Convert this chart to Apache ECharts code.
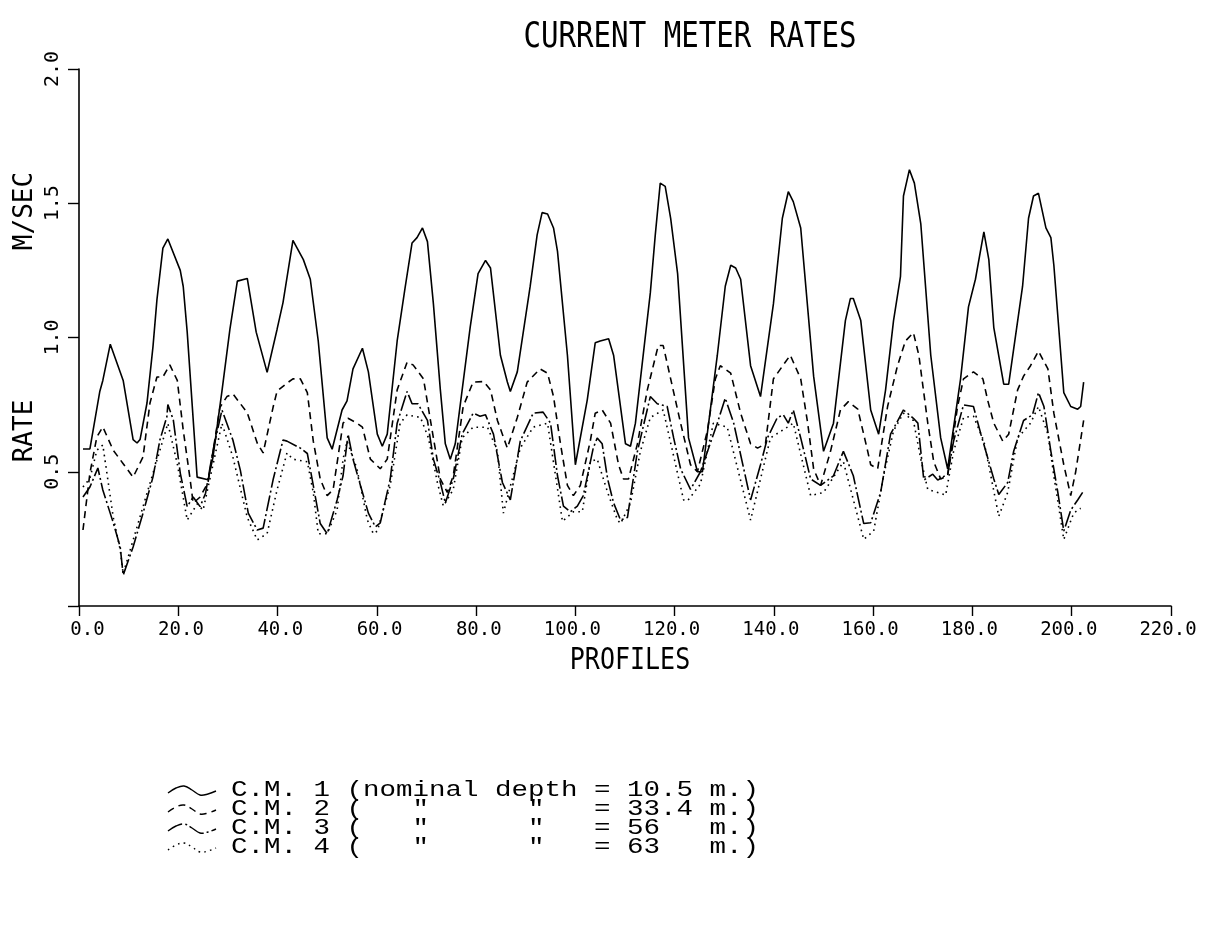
<!DOCTYPE html>
<html>
<head>
<meta charset="utf-8">
<title>Current Meter Rates</title>
<script src="https://cdn.jsdelivr.net/npm/echarts@6/dist/echarts.min.js"></script>
<style>
  html, body { margin: 0; padding: 0; background: #fff; }
  #chart { width: 1211px; height: 935px; }
</style>
</head>
<body>
<div id="chart"></div>
<script>
// Profile number (x) and speed in m/s (y) for each current meter.
const cm1Profiles = [0.8,2.2,4.2,4.8,6.3,8.9,10.9,11.7,12.3,13.7,14.9,15.7,16.9,17.9,20.4,21.0,21.8,23.8,26.0,27.0,28.8,30.4,31.9,33.9,35.7,37.9,39.9,41.1,43.1,45.2,46.6,48.2,50.0,51.0,53.0,54.0,55.2,57.1,58.3,60.1,61.1,62.1,64.1,65.7,67.1,68.1,69.2,70.2,71.4,72.8,73.8,74.8,75.8,78.8,80.4,81.9,82.9,84.9,86.3,86.9,88.3,90.9,92.3,93.3,94.4,95.6,96.4,98.4,100.0,102.4,104.0,105.0,106.7,107.7,110.1,111.1,112.1,115.1,116.1,117.1,118.1,119.2,120.6,122.8,124.6,125.6,128.6,130.2,131.3,132.3,133.3,135.3,137.3,139.9,141.7,142.9,143.9,145.4,148.0,150.0,152.0,154.4,155.4,156.0,157.5,159.5,161.1,162.5,164.1,165.5,166.1,167.3,168.3,169.6,171.6,173.6,175.0,177.6,179.2,180.6,182.3,183.3,184.3,186.3,187.3,190.1,191.3,192.3,193.3,194.8,195.8,196.4,198.4,199.8,201.2,201.8,202.4];
const cm1Rates = [0.585,0.585,0.80,0.84,0.975,0.84,0.62,0.607,0.62,0.756,0.965,1.14,1.333,1.367,1.25,1.19,1.02,0.48,0.47,0.555,0.80,1.03,1.21,1.22,1.02,0.87,1.03,1.13,1.362,1.29,1.217,0.987,0.626,0.584,0.730,0.764,0.883,0.960,0.872,0.640,0.595,0.640,0.987,1.186,1.352,1.372,1.408,1.357,1.125,0.805,0.604,0.547,0.604,1.037,1.238,1.287,1.259,0.934,0.834,0.799,0.872,1.191,1.382,1.465,1.46,1.408,1.321,0.934,0.526,0.768,0.980,0.987,0.995,0.934,0.604,0.595,0.681,1.166,1.382,1.575,1.563,1.444,1.238,0.626,0.50,0.50,0.934,1.191,1.269,1.259,1.217,0.895,0.780,1.125,1.444,1.543,1.506,1.408,0.856,0.576,0.681,1.063,1.145,1.145,1.063,0.730,0.640,0.805,1.063,1.228,1.527,1.625,1.575,1.422,0.934,0.626,0.511,0.845,1.114,1.217,1.393,1.290,1.037,0.826,0.826,1.191,1.444,1.527,1.537,1.408,1.372,1.269,0.795,0.743,0.733,0.743,0.834];

const cm2Profiles = [0.8,2.2,3.6,4.8,6.9,8.9,10.9,12.9,14.3,15.7,16.9,18.3,19.8,21.0,22.4,23.0,24.4,26.0,28.4,29.8,31.0,33.9,35.9,37.1,39.1,39.9,41.9,43.1,44.6,46.0,47.2,48.6,50.0,51.2,53.2,54.2,56.0,57.1,58.7,60.7,62.1,64.1,66.1,67.3,69.4,71.4,72.8,74.2,75.4,77.4,79.4,81.5,82.9,84.3,86.3,88.3,90.3,92.9,94.4,95.6,97.0,98.4,99.6,101.0,103.0,104.0,105.4,107.1,108.7,109.7,110.7,112.5,114.5,116.7,117.7,119.2,121.2,123.2,124.6,126.6,128.2,129.2,131.3,133.3,135.3,136.7,138.3,139.9,143.3,145.4,146.8,148.0,149.4,151.4,153.4,155.0,156.9,158.9,159.5,160.9,162.9,164.9,166.5,168.1,169.2,171.0,172.2,173.6,175.0,177.0,178.2,180.2,182.1,183.1,184.3,186.1,187.3,189.1,190.3,191.7,193.3,195.2,196.4,198.4,199.8,200.8,202.4];
const cm2Rates = [0.283,0.495,0.63,0.667,0.58,0.53,0.48,0.555,0.756,0.853,0.853,0.898,0.84,0.655,0.47,0.383,0.406,0.46,0.74,0.78,0.79,0.72,0.607,0.57,0.74,0.80,0.83,0.846,0.846,0.795,0.614,0.473,0.411,0.434,0.681,0.699,0.681,0.666,0.547,0.511,0.547,0.805,0.908,0.898,0.846,0.626,0.473,0.423,0.485,0.743,0.834,0.836,0.805,0.691,0.588,0.702,0.834,0.883,0.867,0.780,0.604,0.449,0.411,0.449,0.614,0.718,0.730,0.681,0.526,0.473,0.473,0.604,0.805,0.970,0.970,0.846,0.681,0.526,0.50,0.653,0.846,0.895,0.867,0.718,0.604,0.588,0.604,0.846,0.934,0.846,0.681,0.511,0.449,0.576,0.730,0.761,0.733,0.576,0.526,0.511,0.743,0.895,0.987,1.018,0.934,0.681,0.537,0.473,0.485,0.743,0.846,0.872,0.846,0.764,0.681,0.614,0.640,0.805,0.856,0.895,0.949,0.883,0.718,0.526,0.411,0.50,0.691];

const cm3Profiles = [0.8,2.2,3.8,4.8,6.9,8.3,8.9,10.9,12.9,14.9,16.3,17.7,17.9,19.0,20.4,21.8,23.0,24.4,25.5,27.0,28.8,31.0,32.5,34.1,35.9,37.1,39.1,41.1,41.9,44.6,46.0,47.2,48.6,50.0,52.0,53.2,54.2,55.2,56.7,58.3,59.7,60.7,62.7,64.1,66.1,67.1,68.3,70.2,71.4,72.8,73.8,75.4,77.2,79.4,80.8,81.9,83.5,85.3,86.9,88.9,91.5,93.5,95.0,96.4,97.6,99.0,100.4,101.6,103.6,104.4,105.4,106.5,107.7,109.1,110.5,112.5,115.1,116.5,118.5,119.8,121.2,123.2,125.2,128.6,130.2,131.9,135.3,137.3,138.7,140.7,141.9,142.9,143.9,145.4,147.4,149.4,152.0,154.0,156.0,157.5,158.1,159.5,161.5,163.5,166.1,168.1,169.0,169.6,170.2,172.0,173.0,175.0,176.2,178.2,180.2,181.7,184.3,185.3,187.1,188.3,190.3,192.1,193.3,194.4,195.8,197.2,198.4,199.8,201.2,202.2];
const cm3Rates = [0.406,0.443,0.514,0.432,0.31,0.22,0.115,0.22,0.346,0.48,0.618,0.705,0.75,0.693,0.495,0.37,0.406,0.37,0.42,0.58,0.73,0.618,0.506,0.346,0.283,0.29,0.47,0.618,0.614,0.588,0.568,0.449,0.307,0.269,0.395,0.485,0.640,0.547,0.449,0.346,0.295,0.310,0.473,0.681,0.799,0.753,0.753,0.691,0.547,0.460,0.384,0.473,0.640,0.718,0.707,0.712,0.640,0.460,0.395,0.614,0.718,0.722,0.681,0.485,0.372,0.351,0.372,0.411,0.588,0.626,0.604,0.473,0.384,0.320,0.33,0.576,0.780,0.753,0.743,0.626,0.511,0.434,0.50,0.681,0.774,0.681,0.395,0.526,0.626,0.702,0.712,0.681,0.730,0.626,0.473,0.449,0.485,0.576,0.485,0.357,0.307,0.31,0.423,0.640,0.730,0.699,0.681,0.576,0.469,0.491,0.469,0.491,0.614,0.749,0.743,0.640,0.473,0.415,0.460,0.576,0.691,0.712,0.795,0.743,0.576,0.423,0.279,0.357,0.395,0.423];

const cm4Profiles = [0.8,2.2,3.6,4.8,6.9,8.3,8.9,13.7,16.3,17.9,19.8,21.8,23.8,25.0,28.8,31.0,33.9,35.9,37.9,39.9,41.9,43.1,46.0,47.2,48.2,50.0,52.0,53.2,54.0,56.0,58.1,59.3,60.1,62.7,64.7,66.1,68.8,70.4,72.2,73.4,75.4,77.2,79.4,82.3,84.3,85.5,88.9,91.5,94.4,97.4,99.6,101.4,103.0,104.4,106.5,108.5,109.1,111.1,113.1,115.1,117.7,121.8,122.6,125.2,127.8,130.6,135.3,139.3,142.7,143.9,147.4,150.0,154.0,158.1,160.1,162.1,164.1,166.1,168.1,169.6,171.0,173.0,174.6,176.2,178.2,180.2,182.3,183.7,185.3,187.1,189.1,191.7,193.3,195.2,196.4,198.4,200.4,201.8];
const cm4Rates = [0.443,0.475,0.58,0.60,0.33,0.21,0.12,0.42,0.58,0.68,0.53,0.32,0.38,0.357,0.68,0.555,0.33,0.246,0.27,0.432,0.57,0.547,0.537,0.423,0.269,0.269,0.357,0.547,0.614,0.511,0.320,0.269,0.279,0.449,0.681,0.712,0.702,0.626,0.460,0.372,0.434,0.626,0.666,0.666,0.576,0.346,0.588,0.666,0.681,0.315,0.351,0.351,0.537,0.547,0.423,0.320,0.307,0.382,0.576,0.702,0.730,0.395,0.392,0.454,0.681,0.666,0.320,0.626,0.666,0.681,0.411,0.423,0.537,0.248,0.279,0.485,0.653,0.718,0.691,0.547,0.434,0.423,0.413,0.576,0.702,0.707,0.614,0.485,0.334,0.423,0.626,0.681,0.743,0.640,0.485,0.248,0.346,0.364];

// Axis ticks
const xTicks = [0, 20, 40, 60, 80, 100, 120, 140, 160, 180, 200, 220];
const yTicks = [0, 0.5, 1.0, 1.5, 2.0];

// Legend lines
const legendRows = [
  'C.M. 1 (nominal depth = 10.5 m.)',
  'C.M. 2 (   "      "   = 33.4 m.)',
  'C.M. 3 (   "      "   = 56   m.)',
  'C.M. 4 (   "      "   = 63   m.)'
];

const PLOT_FONT = '"DejaVu Sans Mono", monospace';
const TYPE_FONT = '"Liberation Mono", "Courier New", monospace';

function pairs(xs, ys) { return xs.map((x, i) => [x, ys[i]]); }

const lineStyles = [
  { type: 'solid' },
  { type: [7, 5] },
  { type: [16, 3, 2, 3] },
  { type: [1.6, 4.2] }
];
const seriesData = [
  pairs(cm1Profiles, cm1Rates),
  pairs(cm2Profiles, cm2Rates),
  pairs(cm3Profiles, cm3Rates),
  pairs(cm4Profiles, cm4Rates)
];

const chart = echarts.init(document.getElementById('chart'), null, { renderer: 'canvas' });

// Short wavy strokes beside the legend text
const rowY = [790, 809, 828, 847];
function sample(i) {
  const y = rowY[i];
  return {
    type: 'polyline',
    shape: {
      points: [[168, y + 3], [176, y - 2], [184, y - 4], [192, y], [200, y + 5], [208, y + 4], [216, y + 1]],
      smooth: 0.4
    },
    style: { stroke: '#000', lineWidth: 1.4, fill: null, lineDash: i === 0 ? null : lineStyles[i].type }
  };
}

// Plotter lettering is tall and narrow, so the text is stretched vertically.
function plotText(text, x, y, size, rot, sx, sy) {
  return {
    type: 'text', x: x, y: y, rotation: rot, scaleX: sx, scaleY: sy,
    style: { text: text, font: size + 'px ' + PLOT_FONT, fill: '#000', align: 'center', verticalAlign: 'middle' }
  };
}

const graphics = [
  plotText('CURRENT METER RATES', 690, 38, 28, 0, 1.04, 1.25),
  plotText('PROFILES', 630, 661, 25, 0, 1.0, 1.2),
  plotText('M/SEC', 25, 211, 26, Math.PI / 2, 1.0, 1.0),
  plotText('RATE', 25, 431, 26, Math.PI / 2, 1.0, 1.0)
];
legendRows.forEach((t, i) => {
  graphics.push({
    type: 'text', x: 231, y: rowY[i], scaleX: 1.25, scaleY: 1,
    style: { text: t, font: '22px ' + TYPE_FONT, fill: '#000', align: 'left', verticalAlign: 'middle' }
  });
  graphics.push(sample(i));
});

chart.setOption({
  animation: false,
  backgroundColor: '#fff',
  grid: { left: 79, right: 40, top: 69, bottom: 329, containLabel: false },
  xAxis: {
    type: 'value',
    min: xTicks[0], max: xTicks[xTicks.length - 1], interval: 20,
    axisLine: { lineStyle: { color: '#000', width: 1.6 } },
    axisTick: { show: true, inside: false, length: 10, lineStyle: { color: '#000', width: 1.4 } },
    axisLabel: {
      show: true, margin: 15, color: '#000', fontFamily: PLOT_FONT, fontSize: 19,
      padding: [0, 6, 0, 0],
      // labels end a little to the right of their tick
      formatter: v => v.toFixed(1).padStart(5, ' ')
    },
    splitLine: { show: false }
  },
  yAxis: {
    type: 'value',
    min: yTicks[0], max: yTicks[yTicks.length - 1], interval: 0.5,
    axisLine: { show: true, lineStyle: { color: '#000', width: 1.6 } },
    axisTick: { show: true, inside: false, length: 11, lineStyle: { color: '#000', width: 1.4 } },
    axisLabel: {
      show: true, rotate: 90, margin: 16, color: '#000', fontFamily: PLOT_FONT, fontSize: 20,
      formatter: v => (v === 0 ? '' : v.toFixed(1))
    },
    splitLine: { show: false }
  },
  graphic: graphics,
  series: seriesData.map((d, i) => ({
    type: 'line',
    name: 'C.M. ' + (i + 1),
    data: d,
    showSymbol: false,
    symbol: 'none',
    smooth: false,
    lineStyle: { color: '#000', width: 1.6, type: lineStyles[i].type }
  }))
});
</script>
</body>
</html>
